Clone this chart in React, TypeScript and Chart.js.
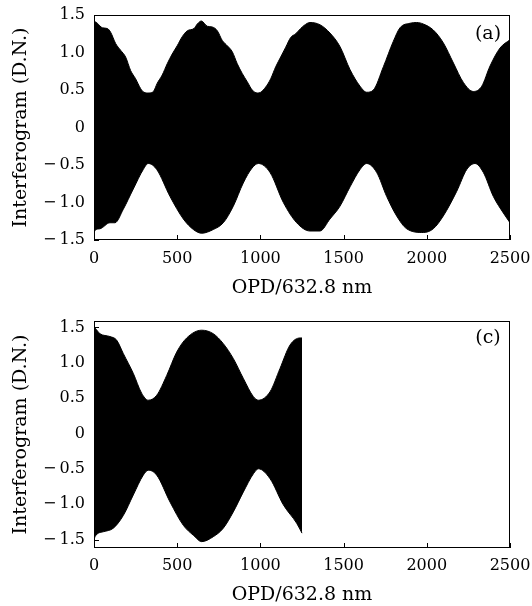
import React, { useEffect, useRef } from "react";
import { Chart, registerables } from "chart.js";

Chart.register(...registerables);

const X_TICKS = [0, 500, 1000, 1500, 2000, 2500];
const X_TICK_LABELS = ["0", "500", "1000", "1500", "2000", "2500"];
const Y_TICKS = [-1.5, -1, -0.5, 0, 0.5, 1, 1.5];
const Y_TICK_LABELS = ["\u2212\u20091.5", "\u2212\u20091.0", "\u2212\u20090.5", "0", "0.5", "1.0", "1.5"];
const X_TITLE = "OPD/632.8 nm";
const Y_TITLE = "Interferogram (D.N.)";

// Panel (a): envelope of the interferogram (upper / lower)
const A_UPPER_OPD = [0, 20, 50, 80, 100, 130, 160, 190, 220, 250, 280, 300, 330, 357, 380, 410, 440, 470, 500, 530, 561, 601, 621, 645, 681, 711, 741, 771, 801, 831, 861, 891, 921, 951, 981, 1002, 1032, 1062, 1092, 1122, 1152, 1182, 1212, 1242, 1262, 1298, 1358, 1418, 1478, 1539, 1599, 1639, 1679, 1739, 1799, 1839, 1899, 1939, 1979, 2039, 2099, 2160, 2220, 2280, 2330, 2380, 2440, 2500];
const A_UPPER = [1.42, 1.39, 1.33, 1.32, 1.27, 1.12, 1.03, 0.94, 0.76, 0.65, 0.52, 0.47, 0.46, 0.48, 0.59, 0.70, 0.85, 0.98, 1.09, 1.21, 1.29, 1.32, 1.38, 1.42, 1.35, 1.34, 1.29, 1.16, 1.09, 1.01, 0.85, 0.72, 0.61, 0.50, 0.46, 0.47, 0.54, 0.65, 0.81, 0.94, 1.07, 1.20, 1.25, 1.32, 1.36, 1.40, 1.37, 1.26, 1.08, 0.77, 0.55, 0.47, 0.50, 0.81, 1.15, 1.33, 1.39, 1.40, 1.38, 1.30, 1.13, 0.86, 0.60, 0.48, 0.55, 0.82, 1.06, 1.17];
const A_LOWER_OPD = [0, 6, 36, 96, 126, 176, 236, 296, 326, 377, 457, 537, 597, 647, 717, 777, 837, 897, 950, 988, 1058, 1138, 1218, 1298, 1358, 1418, 1478, 1539, 1599, 1639, 1699, 1759, 1819, 1879, 1979, 2039, 2099, 2180, 2240, 2290, 2340, 2400, 2460, 2500];
const A_LOWER = [-1.42, -1.37, -1.35, -1.27, -1.27, -1.09, -0.82, -0.56, -0.48, -0.56, -0.92, -1.22, -1.36, -1.41, -1.36, -1.27, -1.05, -0.74, -0.54, -0.48, -0.60, -1.00, -1.27, -1.38, -1.38, -1.22, -1.05, -0.79, -0.56, -0.48, -0.60, -0.92, -1.18, -1.35, -1.40, -1.35, -1.18, -0.85, -0.56, -0.48, -0.60, -0.92, -1.14, -1.27];

// Panel (c): truncated interferogram
const C_UPPER_OPD = [0, 6, 36, 96, 136, 176, 236, 286, 326, 377, 437, 497, 557, 647, 717, 777, 837, 897, 958, 988, 1058, 1118, 1178, 1238, 1250];
const C_UPPER = [1.50, 1.49, 1.41, 1.37, 1.32, 1.13, 0.85, 0.57, 0.47, 0.54, 0.82, 1.15, 1.35, 1.46, 1.41, 1.27, 1.06, 0.78, 0.52, 0.47, 0.59, 0.92, 1.25, 1.35, 1.35];
const C_LOWER_OPD = [0, 6, 56, 116, 176, 236, 296, 326, 377, 457, 537, 597, 647, 717, 777, 837, 897, 958, 988, 1058, 1138, 1218, 1250];
const C_LOWER = [-1.52, -1.46, -1.39, -1.34, -1.16, -0.87, -0.59, -0.52, -0.59, -0.97, -1.30, -1.44, -1.53, -1.46, -1.34, -1.11, -0.83, -0.57, -0.50, -0.64, -1.01, -1.27, -1.41];

const SERIF = "'DejaVu Serif', serif";

const framePlugin = {
  id: "frame",
  afterDatasetsDraw(chart: any, _args: any, opts: any) {
    const { ctx, chartArea: a, scales } = chart;
    ctx.save();
    ctx.strokeStyle = "#000";
    ctx.lineWidth = 1;
    ctx.strokeRect(a.left + 0.5, a.top + 0.5, a.right - a.left - 1, a.bottom - a.top - 1);
    ctx.beginPath();
    const xs = scales.x;
    for (const t of xs.ticks) {
      const px = Math.round(xs.getPixelForValue(t.value)) + 0.5;
      ctx.moveTo(px, a.bottom);
      ctx.lineTo(px, a.bottom - 5);
    }
    const ys = scales.y;
    for (const t of ys.ticks) {
      const py = Math.round(ys.getPixelForValue(t.value)) + 0.5;
      ctx.moveTo(a.left, py);
      ctx.lineTo(a.left + 5, py);
    }
    ctx.stroke();
    ctx.font = `19px ${SERIF}`;
    ctx.fillStyle = "#000";
    ctx.textAlign = "center";
    ctx.textBaseline = "middle";
    ctx.fillText(opts.label, a.right - 22, a.top + opts.labelDy);
    ctx.restore();
  },
};

type PanelProps = {
  top: number;
  upperX: number[];
  upperY: number[];
  lowerX: number[];
  lowerY: number[];
  yMin: number;
  yMax: number;
  label: string;
  labelDy: number;
  padTop: number;
  xAxisH: number;
  xTickPad: number;
  xTitlePad: number;
};

function Panel(p: PanelProps) {
  const ref = useRef<HTMLCanvasElement | null>(null);
  useEffect(() => {
    if (!ref.current) return;
    const upper = p.upperX.map((x, i) => ({ x, y: p.upperY[i] }));
    const lower = p.lowerX.map((x, i) => ({ x, y: p.lowerY[i] }));
    const chart = new Chart(ref.current, {
      type: "line",
      data: {
        datasets: [
          {
            data: upper,
            borderColor: "#000",
            backgroundColor: "#000",
            borderWidth: 1,
            pointRadius: 0,
            cubicInterpolationMode: "monotone",
            fill: "+1",
          },
          {
            data: lower,
            borderColor: "#000",
            backgroundColor: "#000",
            borderWidth: 1,
            pointRadius: 0,
            cubicInterpolationMode: "monotone",
            fill: false,
          },
        ],
      },
      options: {
        animation: false,
        responsive: false,
        maintainAspectRatio: false,
        layout: { padding: { top: p.padTop, right: 22, left: 0, bottom: 0 } },
        plugins: {
          legend: { display: false },
          tooltip: { enabled: false },
          frame: { label: p.label, labelDy: p.labelDy },
        } as any,
        scales: {
          x: {
            type: "linear",
            min: 0,
            max: 2500,
            afterBuildTicks: (s: any) => {
              s.ticks = X_TICKS.map((v) => ({ value: v }));
            },
            afterFit: (s: any) => {
              s.height = p.xAxisH;
              s.paddingLeft = 0;
              s.paddingRight = 0;
            },
            ticks: {
              callback: (_v: any, i: number) => X_TICK_LABELS[i],
              font: { family: SERIF, size: 16 },
              color: "#000",
              padding: p.xTickPad,
              maxRotation: 0,
              autoSkip: false,
            },
            grid: { display: false, drawTicks: false },
            border: { display: false },
            title: {
              display: true,
              text: X_TITLE,
              font: { family: SERIF, size: 19 },
              color: "#000",
              padding: { top: 0, bottom: p.xTitlePad },
            },
          },
          y: {
            type: "linear",
            min: p.yMin,
            max: p.yMax,
            afterBuildTicks: (s: any) => {
              s.ticks = Y_TICKS.map((v) => ({ value: v }));
            },
            afterFit: (s: any) => {
              s.width = 94;
              s.paddingTop = 0;
              s.paddingBottom = 0;
            },
            ticks: {
              callback: (_v: any, i: number) => Y_TICK_LABELS[i],
              font: { family: SERIF, size: 16 },
              color: "#000",
              padding: 9,
              autoSkip: false,
            },
            grid: { display: false, drawTicks: false },
            border: { display: false },
            title: {
              display: true,
              text: Y_TITLE,
              font: { family: SERIF, size: 19 },
              color: "#000",
              padding: { top: 10, bottom: 0 },
            },
          },
        },
      },
      plugins: [framePlugin as any],
    });
    return () => chart.destroy();
  }, []);
  return (
    <div style={{ position: "absolute", left: 0, top: p.top, width: 532, height: 303 }}>
      <canvas ref={ref} width={532} height={303} style={{ display: "block" }} />
    </div>
  );
}

export default function App() {
  return (
    <div style={{ position: "absolute", left: 0, top: 0, width: 532, height: 606, background: "#fff" }}>
      <Panel
        top={0}
        upperX={A_UPPER_OPD}
        upperY={A_UPPER}
        lowerX={A_LOWER_OPD}
        lowerY={A_LOWER}
        yMin={-1.5}
        yMax={1.5}
        label="(a)"
        labelDy={19.5}
        padTop={15}
        xAxisH={63}
        xTickPad={9}
        xTitlePad={4}
      />
      <Panel
        top={303}
        upperX={C_UPPER_OPD}
        upperY={C_UPPER}
        lowerX={C_LOWER_OPD}
        lowerY={C_LOWER}
        yMin={-1.62}
        yMax={1.59}
        label="(c)"
        labelDy={17}
        padTop={18}
        xAxisH={58}
        xTickPad={8}
        xTitlePad={0}
      />
    </div>
  );
}
